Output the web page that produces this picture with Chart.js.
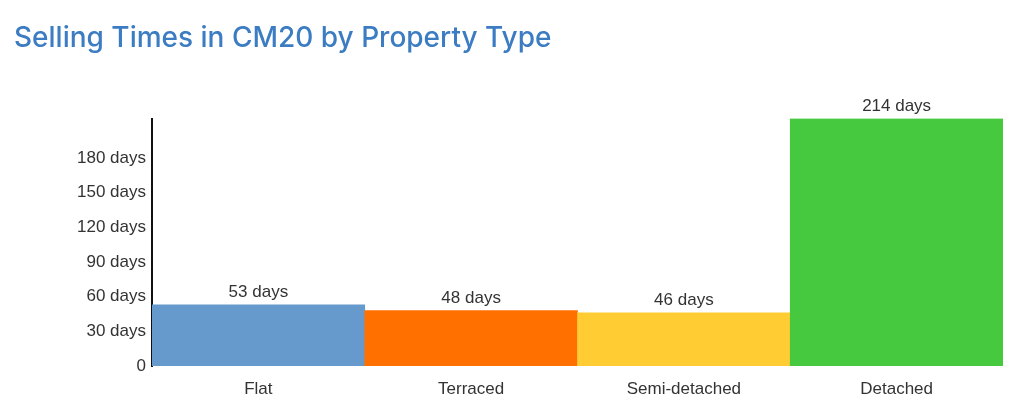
<!DOCTYPE html>
<html>
<head>
<meta charset="utf-8">
<script src="https://cdn.jsdelivr.net/npm/chart.js@4.4.1/dist/chart.umd.min.js"></script>
<style>
  html, body { margin: 0; padding: 0; background: #fff; }
  #wrap { width: 1024px; height: 409px; position: relative; }
</style>
</head>
<body>
<div id="wrap"><canvas id="myChart"></canvas></div>
<script>
// data
const categories = ["Flat", "Terraced", "Semi-detached", "Detached"]
const sellingDays = [53, 48, 46, 214]
const barColours = ["#6699cc", "#ff7000", "#ffcc33", "#46c93e"]
const tickValues = [0, 30, 60, 90, 120, 150, 180]

// labels on top of each bar ("53 days" etc)
const valueLabels = {
  id: "valueLabels",
  afterDatasetsDraw(chart) {
    const c = chart.ctx
    const meta = chart.getDatasetMeta(0)
    c.save()
    c.font = "17px 'Liberation Sans', Arial, sans-serif"
    c.fillStyle = "#333"
    c.textAlign = "center"
    c.textBaseline = "bottom"
    meta.data.forEach((bar, i) => {
      c.fillText(sellingDays[i] + " days", bar.x, bar.y - 4)
    })
    c.restore()
  },
}

const ctx = document.getElementById("myChart").getContext("2d")
const myChart = new Chart(ctx, {
  type: "bar",
  data: {
    labels: categories,
    datasets: [
      {
        data: sellingDays,
        backgroundColor: barColours,
        borderWidth: 0,
        barPercentage: 1,
        categoryPercentage: 1,
      },
    ],
  },
  options: {
    responsive: true,
    maintainAspectRatio: false,
    animation: false,
    layout: { padding: { left: 14, right: 21, top: 0, bottom: 0 } },
    plugins: {
      legend: { display: false },
      tooltip: { enabled: false },
      title: {
        display: true,
        text: "Selling Times in CM20 by Property Type",
        align: "start",
        color: "#3b7cc2",
        font: { family: "Inter, 'Open Sans', sans-serif", size: 28, weight: "500" },
        padding: { top: 22, bottom: 63 },
      },
    },
    scales: {
      x: {
        grid: { display: false, drawTicks: false },
        border: { display: false },
        afterFit: (scale) => {
          scale.height = 43
        },
        ticks: {
          color: "#333",
          padding: 13,
          font: { family: "'Liberation Sans', Arial, sans-serif", size: 17 },
        },
      },
      y: {
        min: 0,
        max: 214,
        grid: { display: false, drawTicks: false },
        border: { display: true, color: "#111", width: 2 },
        afterBuildTicks: (scale) => {
          scale.ticks = tickValues.map((v) => ({ value: v }))
        },
        afterFit: (scale) => {
          scale.width = 138
        },
        ticks: {
          color: "#333",
          padding: 6,
          font: { family: "'Liberation Sans', Arial, sans-serif", size: 17 },
          callback: (v) => (v === 0 ? "0" : v + " days"),
        },
      },
    },
  },
  plugins: [valueLabels],
})
</script>
</body>
</html>
